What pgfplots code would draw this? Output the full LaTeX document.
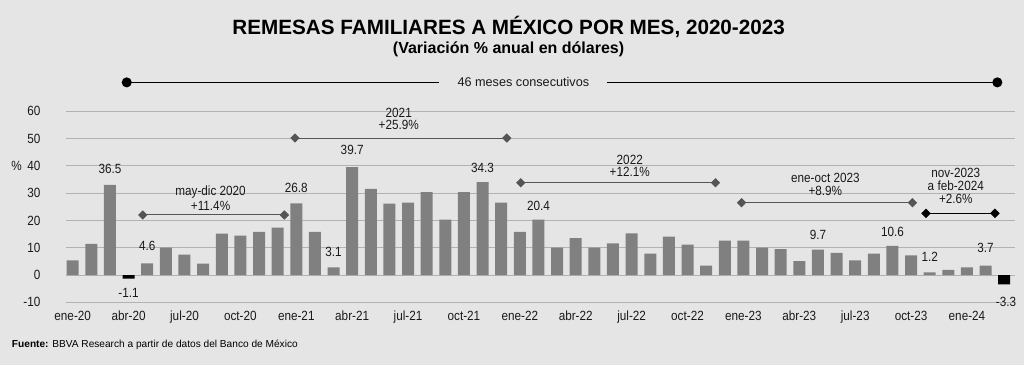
\documentclass[border=0pt]{standalone}
\usepackage{pgfplots}
\pgfplotsset{compat=1.18}
\usepackage{fontspec}
\setmainfont{Liberation Sans}[FakeStretch=0.88]
\newfontfamily\plainfont{Liberation Sans}
\definecolor{bg}{RGB}{229,229,229}
\definecolor{barc}{RGB}{128,128,128}
\definecolor{gridc}{RGB}{178,178,178}
\definecolor{ann}{RGB}{85,85,85}
\definecolor{txt}{RGB}{25,25,25}
\begin{document}
\begin{tikzpicture}
\useasboundingbox (0,0) rectangle (768pt,273.75pt);
\fill[bg] (0,0) rectangle (768pt,273.75pt);
\begin{axis}[
  at={(49.5pt,47.03pt)}, anchor=south west,
  scale only axis, width=712.05pt, height=143.25pt,
  xmin=-0.36, xmax=50.6, ymin=-10, ymax=60,
  ytick={-10,0,10,20,30,40,50,60},
  xtick={0,3,...,48},
  xticklabels={ene-20,abr-20,jul-20,oct-20,ene-21,abr-21,jul-21,oct-21,ene-22,abr-22,jul-22,oct-22,ene-23,abr-23,jul-23,oct-23,ene-24},
  ymajorgrids, grid style={gridc, line width=0.75pt},
  axis line style={draw=none},
  major tick length=0pt,
  tick label style={font=\fontsize{10}{12}\selectfont, text=txt},
  /pgf/number format/assume math mode=true,
  xticklabel style={anchor=base, yshift=-13.8pt},
  yticklabel style={anchor=east, inner sep=0pt, xshift=-19pt},
  clip=false,
]
\addplot[ybar, bar width=9pt, bar shift=0pt, fill=barc, draw=none] coordinates {
 (0,5.4) (1,11.4) (2,33.0) (4,4.3) (5,10.0) (6,7.5) (7,4.2) (8,15.2) (9,14.4)
 (10,15.8) (11,17.4) (12,26.3) (13,15.8) (14,2.8) (15,39.5) (16,31.6) (17,26.2)
 (18,26.5) (19,30.4) (20,20.3) (21,30.4) (22,34.0) (23,26.5) (24,15.8) (25,20.3)
 (26,10.0) (27,13.5) (28,10.0) (29,11.6) (30,15.3) (31,7.8) (32,14.1) (33,11.1)
 (34,3.4) (35,12.6) (36,12.6) (37,10.0) (38,9.5) (39,5.1) (40,9.3) (41,8.1)
 (42,5.4) (43,7.8) (44,10.7) (45,7.2) (46,1.0) (47,1.9) (48,2.8) (49,3.4)};
\addplot[ybar, bar width=9pt, bar shift=0pt, fill=black, draw=none] coordinates {(3,-1.3) (50,-3.4)};

% period annotations
\addplot[ann, line width=0.75pt, mark=square*, mark size=2.1pt, mark options={rotate=45, fill=ann, draw=ann}] coordinates {(3.76,22) (11.36,22)};
\addplot[ann, line width=0.75pt, mark=square*, mark size=2.1pt, mark options={rotate=45, fill=ann, draw=ann}] coordinates {(11.93,50.2) (23.3,50.2)};
\addplot[ann, line width=0.75pt, mark=square*, mark size=2.1pt, mark options={rotate=45, fill=ann, draw=ann}] coordinates {(24.05,33.8) (34.5,33.8)};
\addplot[ann, line width=0.75pt, mark=square*, mark size=2.1pt, mark options={rotate=45, fill=ann, draw=ann}] coordinates {(35.9,26.5) (45.07,26.5)};
\addplot[black, line width=0.9pt, mark=square*, mark size=2.1pt, mark options={rotate=45, fill=black, draw=black}] coordinates {(45.8,22.6) (49.5,22.6)};

% 46 meses line
\addplot[black, line width=0.9pt, mark=*, mark size=3.3pt, mark indices={1}, mark options={fill=black}] coordinates {(2.9,70.6) (19.66,70.6)};
\addplot[black, line width=0.9pt, mark=*, mark size=3.3pt, mark indices={2}, mark options={fill=black}] coordinates {(28.66,70.6) (49.63,70.6)};
\node[font=\plainfont\fontsize{9.5}{11}\selectfont, text=txt] at (axis cs:24.19,70.6) {46 meses consecutivos};

\tikzset{lab/.style={font=\fontsize{10}{12}\selectfont, text=txt, inner sep=0pt}}
\node[lab] at (axis cs:2,39.0) {36.5};
\node[lab] at (axis cs:3,-6.6) {-1.1};
\node[lab] at (axis cs:4,10.5) {4.6};
\node[lab] at (axis cs:12,31.8) {26.8};
\node[lab] at (axis cs:14,8.3) {3.1};
\node[lab] at (axis cs:15,45.7) {39.7};
\node[lab] at (axis cs:22,39.3) {34.3};
\node[lab] at (axis cs:25,25.5) {20.4};
\node[lab] at (axis cs:40,14.7) {9.7};
\node[lab] at (axis cs:44,15.9) {10.6};
\node[lab] at (axis cs:46,6.7) {1.2};
\node[lab] at (axis cs:49,10.1) {3.7};
\node[lab] at (axis cs:50.1,-9.8) {-3.3};

\node[lab] at (axis cs:7.4,30.3) {may-dic 2020};
\node[lab] at (axis cs:7.4,25.5) {+11.4\%};
\node[lab] at (axis cs:17.5,59.4) {2021};
\node[lab] at (axis cs:17.5,54.9) {+25.9\%};
\node[lab] at (axis cs:29.9,42.3) {2022};
\node[lab] at (axis cs:29.9,37.7) {+12.1\%};
\node[lab] at (axis cs:40.4,35.5) {ene-oct 2023};
\node[lab] at (axis cs:40.4,30.7) {+8.9\%};
\node[lab] at (axis cs:47.4,37.5) {nov-2023};
\node[lab] at (axis cs:47.4,32.6) {a feb-2024};
\node[lab] at (axis cs:47.4,27.9) {+2.6\%};
\end{axis}
\node[anchor=base, inner sep=0pt, text=black, font=\plainfont\bfseries\fontsize{15.5}{18}\selectfont] at (381.5pt,247.5pt) {REMESAS FAMILIARES A MÉXICO POR MES, 2020-2023};
\node[anchor=base, inner sep=0pt, text=black, font=\plainfont\bfseries\fontsize{12}{14}\selectfont] at (381.4pt,233.8pt) {(Variación \% anual en dólares)};
\node[anchor=base west, inner sep=0pt, text=black, font=\plainfont\fontsize{7.6}{9}\selectfont] at (8.8pt,13.3pt) {\textbf{Fuente:} BBVA Research a partir de datos del Banco de México};
\node[inner sep=0pt, text=txt, font=\fontsize{10}{12}\selectfont] at (12.4pt,149.5pt) {\%};
\end{tikzpicture}
\end{document}
